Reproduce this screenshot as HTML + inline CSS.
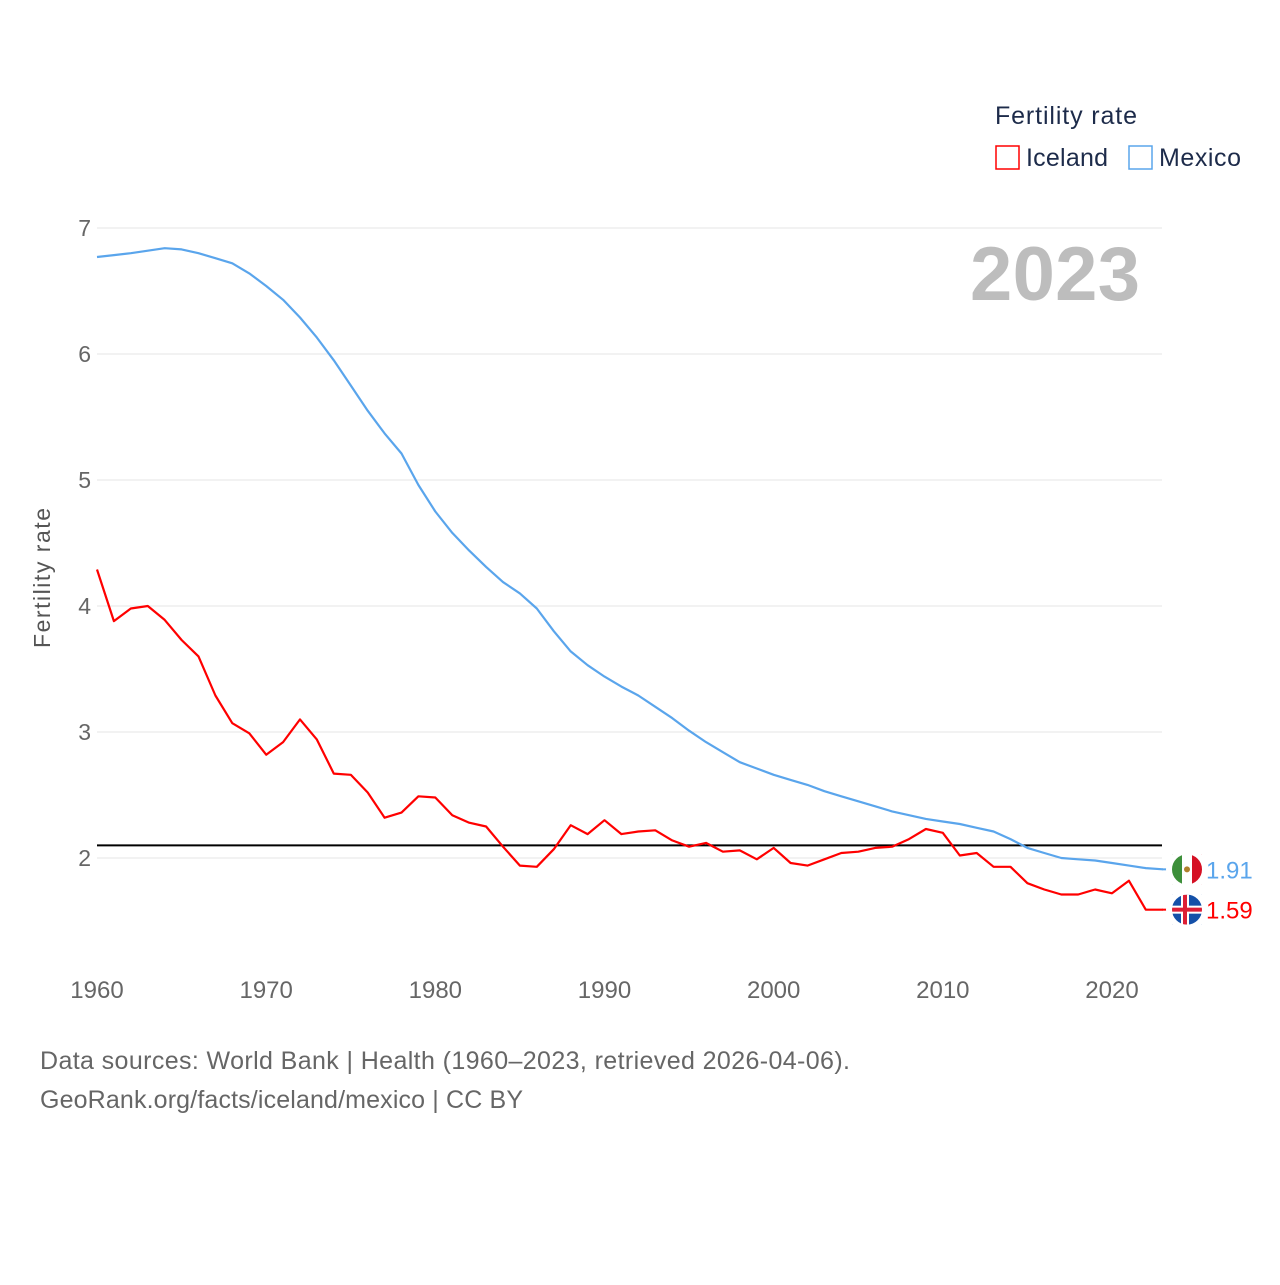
<!DOCTYPE html>
<html><head><meta charset="utf-8"><style>
body{margin:0;background:#fff;font-family:"Liberation Sans",sans-serif;}
svg text{font-family:"Liberation Sans",sans-serif;}
</style></head><body>
<svg id="chart" width="1280" height="1280" xmlns="http://www.w3.org/2000/svg">
<g id="grid"></g>
<g id="yticks"></g>
<g id="xticks"></g>
<text x="50" y="578" transform="rotate(-90 50 578)" text-anchor="middle" font-size="23" fill="#555" textLength="140">Fertility rate</text>
<text x="970" y="300" font-size="76" font-weight="bold" fill="#bdbdbd" textLength="170">2023</text>
<g>
<text x="995" y="124" font-size="25" fill="#1d2b4a" textLength="142">Fertility rate</text>
<rect x="996" y="146" width="23" height="23" fill="none" stroke="#ff0000" stroke-width="1.5"/>
<text x="1026" y="166" font-size="25" fill="#1d2b4a" textLength="82">Iceland</text>
<rect x="1129" y="146" width="23" height="23" fill="none" stroke="#5aa5ec" stroke-width="1.5"/>
<text x="1159" y="166" font-size="25" fill="#1d2b4a" textLength="82">Mexico</text>
</g>
<g id="series"></g>
<g id="ends"></g>
<text x="40" y="1069" font-size="25" fill="#666" textLength="810">Data sources: World Bank | Health (1960–2023, retrieved 2026-04-06).</text>
<text x="40" y="1108" font-size="25" fill="#666" textLength="483">GeoRank.org/facts/iceland/mexico | CC BY</text>
</svg>
<script>
const years=[];for(let y=1960;y<=2023;y++)years.push(y);
const iceland=[4.29,3.88,3.98,4.0,3.89,3.73,3.60,3.29,3.07,2.99,2.82,2.92,3.10,2.94,2.67,2.66,2.52,2.32,2.36,2.49,2.48,2.34,2.28,2.25,2.09,1.94,1.93,2.07,2.26,2.19,2.30,2.19,2.21,2.22,2.14,2.09,2.12,2.05,2.06,1.99,2.08,1.96,1.94,1.99,2.04,2.05,2.08,2.09,2.15,2.23,2.20,2.02,2.04,1.93,1.93,1.80,1.75,1.71,1.71,1.75,1.72,1.82,1.59,1.59];
const mexico=[6.77,6.785,6.80,6.82,6.84,6.83,6.80,6.76,6.72,6.64,6.54,6.43,6.29,6.13,5.95,5.75,5.55,5.37,5.21,4.96,4.75,4.58,4.44,4.31,4.19,4.10,3.98,3.80,3.64,3.53,3.44,3.36,3.29,3.20,3.11,3.01,2.92,2.84,2.76,2.71,2.66,2.62,2.58,2.53,2.49,2.45,2.41,2.37,2.34,2.31,2.29,2.27,2.24,2.21,2.15,2.08,2.04,2.00,1.99,1.98,1.96,1.94,1.92,1.91];
const yTicks=[2,3,4,5,6,7];
const xTicks=[1960,1970,1980,1990,2000,2010,2020];
const replacement=2.1;
const NS="http://www.w3.org/2000/svg";
const X=y=>97+(y-1960)*(1112-97)/60;
const Y=v=>858-(v-2)*126;
function mk(t,a,p){const e=document.createElementNS(NS,t);for(const k in a)e.setAttribute(k,a[k]);p.appendChild(e);return e;}
const grid=document.getElementById('grid'),yt=document.getElementById('yticks'),xt=document.getElementById('xticks');
yTicks.forEach(v=>{
 const l=mk('line',{x1:97,x2:1162,y1:Y(v),y2:Y(v),stroke:'#e6e6e6','stroke-width':1},grid);
 
 
 const t=mk('text',{x:91,y:Y(v)+8,'text-anchor':'end','font-size':23,fill:'#666'},yt);t.textContent=v;
 
 
});
xTicks.forEach(v=>{
 const t=mk('text',{x:X(v),y:998,'text-anchor':'middle','font-size':24,fill:'#666'},xt);t.textContent=v;
 
 
});
const s=document.getElementById('series');
const rl=mk('line',{x1:97,x2:1162,y1:Y(replacement),y2:Y(replacement),stroke:'#000','stroke-width':2},s);


function line(d,c,n){const p=mk('path',{d:d.map((v,i)=>(i?'L':'M')+X(years[i]).toFixed(1)+','+Y(v).toFixed(1)).join(''),fill:'none',stroke:c,'stroke-width':2.2,'stroke-linejoin':'round'},s);
 
 }
line(mexico,'#5aa5ec','line-mexico');
line(iceland,'#ff0000','line-iceland');
const ends=document.getElementById('ends');
function end(v,c,n,flag){
 const yy=Y(v);const xx=1187;
 const g=mk('g',{},ends);
 
 
 mk('line',{x1:1162,x2:1172,y1:yy,y2:yy,stroke:c,'stroke-width':2},g);
 if(flag==='mx'){
  mk('rect',{x:xx-15,y:yy-15,width:10,height:30,fill:'#3d8f3a'},g);
  mk('rect',{x:xx-5,y:yy-15,width:10,height:30,fill:'#fff'},g);
  mk('rect',{x:xx+5,y:yy-15,width:10,height:30,fill:'#d51024'},g);
  mk('circle',{cx:xx,cy:yy,r:3,fill:'#b0802c'},g);
 }else{
  mk('rect',{x:xx-15,y:yy-15,width:30,height:30,fill:'#1450a8'},g);
  mk('rect',{x:xx-15,y:yy-4,width:30,height:8,fill:'#fff'},g);
  mk('rect',{x:xx-6,y:yy-15,width:8,height:30,fill:'#fff'},g);
  mk('rect',{x:xx-15,y:yy-2,width:30,height:4,fill:'#dc1e35'},g);
  mk('rect',{x:xx-4,y:yy-15,width:4,height:30,fill:'#dc1e35'},g);
 }
 mk('circle',{cx:xx,cy:yy,r:18,fill:'none',stroke:'#fff','stroke-width':6},g);
 const t=mk('text',{x:1206,y:yy+9,'font-size':24,fill:c},g);t.textContent=v.toFixed(2);
}
end(mexico[mexico.length-1],'#5aa5ec','mexico','mx');
end(iceland[iceland.length-1],'#ff0000','iceland','is');
</script>
</body></html>
